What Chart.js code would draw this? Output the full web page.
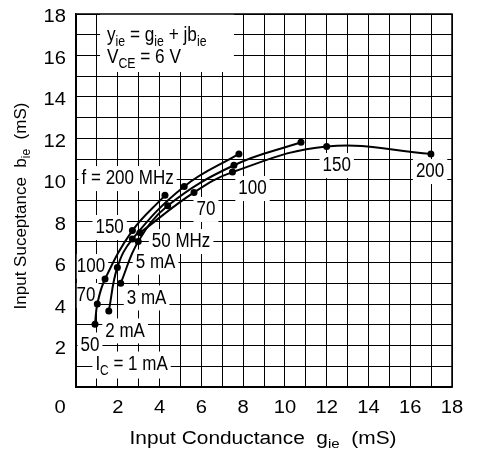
<!DOCTYPE html>
<html>
<head>
<meta charset="utf-8">
<script src="https://cdn.jsdelivr.net/npm/chart.js@4.4.0/dist/chart.umd.min.js"></script>
<style>
    html, body { margin: 0; padding: 0; background: #fff; }
    #wrap { width: 478px; height: 456px; }
</style>
</head>
<body>
<div id="wrap"><canvas id="chart" width="478" height="456"></canvas></div>
<script>
const FONT = '"Liberation Sans", Arial, Helvetica, sans-serif';

// points on each IC curve, at f = 50, 70, 100, 150, 200 MHz
const frequencies = [50, 70, 100, 150, 200];
const g1mA = [0.91, 1.02, 1.39, 2.70, 4.26];
const b1mA = [3.03, 4.00, 5.21, 7.55, 9.25];
const g2mA = [1.57, 1.98, 2.70, 5.18, 7.80];
const b2mA = [3.67, 5.77, 7.14, 9.68, 11.25];
const g3mA = [2.14, 2.98, 4.39, 7.56, 10.77];
const b3mA = [5.01, 7.02, 8.75, 10.70, 11.81];
const g5mA = [3.06, 5.65, 7.49, 12.00, 16.99];
const b5mA = [7.44, 9.39, 10.37, 11.61, 11.25];

const xTicks = [0, 2, 4, 6, 8, 10, 12, 14, 16, 18];
const yTicks = [2, 4, 6, 8, 10, 12, 14, 16, 18];

const curves = [
    { label: 'IC = 1 mA', g: g1mA, b: b1mA },
    { label: 'IC = 2 mA', g: g2mA, b: b2mA },
    { label: 'IC = 3 mA', g: g3mA, b: b3mA },
    { label: 'IC = 5 mA', g: g5mA, b: b5mA }
];

// text labels on the plot, centred at (g, b); [text, isSubscript]
const notes = [
    { parts: [['f = 200 MHz']], g: 2.47, b: 10.13 },
    { parts: [['150']], g: 1.61, b: 7.77 },
    { parts: [['100']], g: 0.72, b: 5.89 },
    { parts: [['70']], g: 0.48, b: 4.49 },
    { parts: [['50']], g: 0.67, b: 2.10 },
    { parts: [['I'], ['C', true], [' = 1 mA']], g: 2.66, b: 1.18 },
    { parts: [['2 mA']], g: 2.35, b: 2.78 },
    { parts: [['3 mA']], g: 3.38, b: 4.37 },
    { parts: [['5 mA']], g: 3.81, b: 6.10 },
    { parts: [['50 MHz']], g: 5.03, b: 7.09 },
    { parts: [['70']], g: 6.22, b: 8.64 },
    { parts: [['100']], g: 8.45, b: 9.65 },
    { parts: [['150']], g: 12.48, b: 10.76 },
    { parts: [['200']], g: 16.95, b: 10.47 }
];

const legendLines = [
    [['y'], ['ie', true], [' = g'], ['ie', true], [' + jb'], ['ie', true]],
    [['V'], ['CE', true], [' = 6 V']]
];

const xTitle = [['Input Conductance  g'], ['ie', true], ['  (mS)']];
const yTitle = [['Input Suceptance  b'], ['ie', true], ['  (mS)']];

/* ---------- rich text helpers ---------- */

function setFont(ctx, size, sub) {
    ctx.font = `${sub ? Math.round(size * 0.72) : size}px ${FONT}`;
}

function richWidth(ctx, parts, size) {
    let w = 0;
    parts.forEach(([t, sub]) => {
        setFont(ctx, size, sub);
        w += ctx.measureText(t).width;
    });
    return w;
}

// draws text segments; sx stretches horizontally, align = left | center | right
function drawRich(ctx, parts, ax, baseline, size, sx = 1, align = 'left') {
    const w = richWidth(ctx, parts, size) * sx;
    const left = align === 'center' ? ax - w / 2 : align === 'right' ? ax - w : ax;
    ctx.save();
    ctx.translate(left, baseline);
    ctx.scale(sx, 1);
    ctx.textAlign = 'left';
    ctx.textBaseline = 'alphabetic';
    let x = 0;
    parts.forEach(([t, sub]) => {
        setFont(ctx, size, sub);
        ctx.fillText(t, x, sub ? size * 0.24 : 0);
        x += ctx.measureText(t).width;
    });
    ctx.restore();
    return w;
}

/* ---------- plugin: labels, ticks, titles, frame ---------- */

const chartText = {
    id: 'chartText',
    beforeDatasetsDraw(chart) {
        const { ctx, chartArea: a, scales: { x, y } } = chart;
        const size = 20, sx = 0.85;

        ctx.save();
        ctx.beginPath();
        ctx.rect(a.left, a.top, a.right - a.left, a.bottom - a.top);
        ctx.clip();

        // legend box
        ctx.fillStyle = '#fff';
        const lx0 = x.getPixelForValue(1.15), lx1 = x.getPixelForValue(7.56);
        ctx.fillRect(lx0, a.top, lx1 - lx0, y.getPixelForValue(15.2) - a.top);
        ctx.fillStyle = '#000';
        drawRich(ctx, legendLines[0], x.getPixelForValue(1.48), y.getPixelForValue(17.08) + 21 * 0.36, 21, 0.82);
        drawRich(ctx, legendLines[1], x.getPixelForValue(1.48), y.getPixelForValue(16.02) + 21 * 0.36, 21, 0.82);

        notes.forEach(n => {
            const w = richWidth(ctx, n.parts, size) * sx;
            const cx = x.getPixelForValue(n.g);
            const cy = y.getPixelForValue(n.b);
            const hasSub = n.parts.some(p => p[1]);
            ctx.fillStyle = '#fff';
            ctx.fillRect(cx - w / 2 - 3, cy - 11, w + 6, hasSub ? 27 : 25);
            ctx.fillStyle = '#000';
            drawRich(ctx, n.parts, cx, cy + size * 0.36, size, sx, 'center');
        });
        ctx.restore();
    },
    afterDraw(chart) {
        const { ctx, chartArea: a, scales: { x, y } } = chart;

        // frame
        ctx.save();
        ctx.strokeStyle = '#000';
        ctx.lineWidth = 1.5;
        ctx.strokeRect(a.left, a.top, a.right - a.left, a.bottom - a.top);
        ctx.fillStyle = '#000';

        // tick labels
        xTicks.forEach(v => {
            const px = v === 0 ? x.getPixelForValue(0) - 16 : x.getPixelForValue(v);
            drawRich(ctx, [[String(v)]], px, a.bottom + 20 + 18 * 0.36, 18, 1.12, 'center');
        });
        yTicks.forEach(v => {
            drawRich(ctx, [[String(v)]], a.left - 10, y.getPixelForValue(v) + 2 + 18 * 0.36, 18, 1.12, 'right');
        });

        // axis titles
        drawRich(ctx, xTitle, 263, 444, 18, 1.16, 'center');

        ctx.translate(26, 206);
        ctx.rotate(-Math.PI / 2);
        drawRich(ctx, yTitle, 0, 0, 17, 1, 'center');
        ctx.restore();
    }
};

new Chart(document.getElementById('chart'), {
    type: 'scatter',
    data: {
        datasets: curves.map(c => ({
            label: c.label,
            data: c.g.map((g, i) => ({ x: g, y: c.b[i] })),
            showLine: true,
            tension: 0.4,
            borderColor: '#000',
            backgroundColor: '#000',
            borderWidth: 2,
            pointRadius: 3.5,
            pointHoverRadius: 3.5,
            pointBorderWidth: 0
        }))
    },
    options: {
        responsive: false,
        animation: false,
        devicePixelRatio: 1,
        layout: { padding: { top: 14, right: 26, left: 0, bottom: 0 } },
        plugins: { legend: { display: false }, tooltip: { enabled: false } },
        scales: {
            x: {
                type: 'linear',
                min: 0,
                max: 18,
                afterFit: s => { s.height = 69; },
                ticks: {
                    stepSize: 1,
                    autoSkip: false,
                    maxRotation: 0,
                    font: { family: FONT, size: 17 },
                    callback: () => ''
                },
                grid: { color: '#000', lineWidth: 1, drawTicks: false },
                border: { color: '#000', width: 1.5 }
            },
            y: {
                type: 'linear',
                min: 0,
                max: 18,
                afterFit: s => { s.width = 76; },
                ticks: {
                    stepSize: 1,
                    autoSkip: false,
                    font: { family: FONT, size: 17 },
                    callback: () => ''
                },
                grid: { color: '#000', lineWidth: 1, drawTicks: false },
                border: { color: '#000', width: 1.5 }
            }
        }
    },
    plugins: [chartText]
});
</script>
</body>
</html>
